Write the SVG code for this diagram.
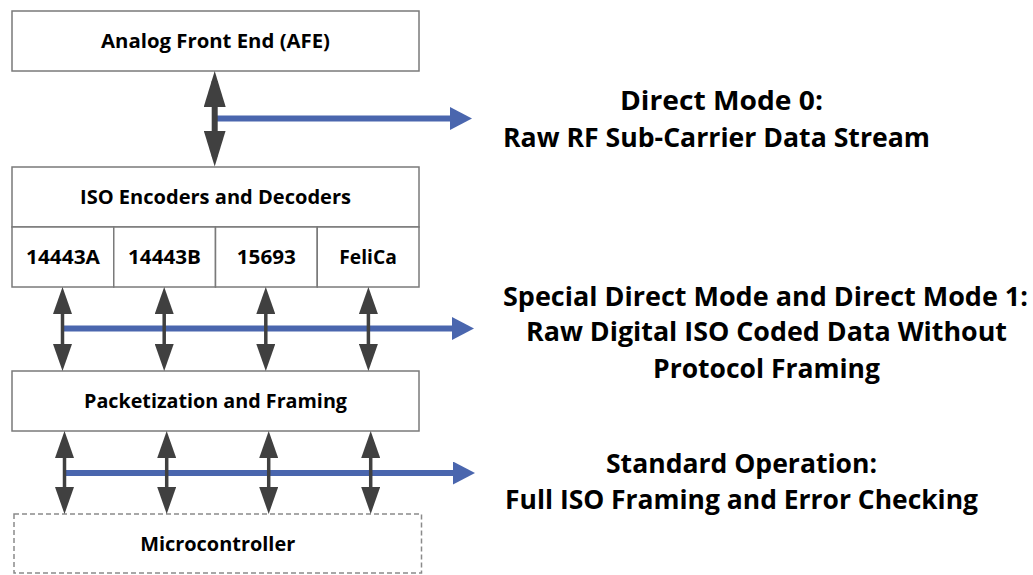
<svg xmlns="http://www.w3.org/2000/svg" width="1033" height="575" viewBox="0 0 1033 575">
  <style>
    .box { fill: #ffffff; stroke: #7a7a7a; stroke-width: 1.5; }
    .dashed { fill: #ffffff; stroke: #8a8a8a; stroke-width: 1.5; stroke-dasharray: 5 3; }
    .lbl { font-family: "Open Sans", "Liberation Sans", sans-serif; font-weight: 700; font-size: 19px; fill: #000000; text-anchor: middle; }
    .mode { font-family: "Open Sans", "Liberation Sans", sans-serif; font-weight: 700; font-size: 27px; fill: #000000; text-anchor: middle; }
    .bus { stroke: #404040; fill: none; }
    .tap { stroke: #4a66ae; stroke-width: 6; fill: none; }
  </style>
  <defs>
    <!-- large double-headed link head (AFE to encoders) -->
    <marker id="headL" markerUnits="userSpaceOnUse" viewBox="0 0 36 22" markerWidth="36" markerHeight="22" refX="26" refY="11" orient="auto-start-reverse">
      <path d="M0,0 L36,11 L0,22 Z" fill="#404040"/>
    </marker>
    <!-- small double-headed link head (per-protocol lanes) -->
    <marker id="headS" markerUnits="userSpaceOnUse" viewBox="0 0 27 19" markerWidth="27" markerHeight="19" refX="17" refY="9.5" orient="auto-start-reverse">
      <path d="M0,0 L27,9.5 L0,19 Z" fill="#404040"/>
    </marker>
    <!-- blue tap-off head -->
    <marker id="headB" markerUnits="userSpaceOnUse" viewBox="0 0 22 23" markerWidth="22" markerHeight="23" refX="12" refY="11.5" orient="auto">
      <path d="M0,0 L22,11.5 L0,23 Z" fill="#4a66ae"/>
    </marker>
  </defs>

  <!-- blocks -->
  <g id="afe">
    <rect class="box" x="12" y="11" width="407" height="60"/>
    <text class="lbl" x="215.5" y="48" textLength="229" lengthAdjust="spacingAndGlyphs">Analog Front End (AFE)</text>
  </g>

  <g id="iso-codecs">
    <rect class="box" x="12" y="167" width="407" height="60"/>
    <text class="lbl" x="215.5" y="204" textLength="271" lengthAdjust="spacingAndGlyphs">ISO Encoders and Decoders</text>
  </g>
  <g id="iso-14443a">
    <rect class="box" x="12" y="227" width="101.75" height="60"/>
    <text class="lbl" x="63" y="264" textLength="74" lengthAdjust="spacingAndGlyphs">14443A</text>
  </g>
  <g id="iso-14443b">
    <rect class="box" x="113.75" y="227" width="101.75" height="60"/>
    <text class="lbl" x="164.5" y="264" textLength="73" lengthAdjust="spacingAndGlyphs">14443B</text>
  </g>
  <g id="iso-15693">
    <rect class="box" x="215.5" y="227" width="101.75" height="60"/>
    <text class="lbl" x="266.3" y="264" textLength="59" lengthAdjust="spacingAndGlyphs">15693</text>
  </g>
  <g id="iso-felica">
    <rect class="box" x="317.25" y="227" width="101.75" height="60"/>
    <text class="lbl" x="368" y="264" textLength="57.5" lengthAdjust="spacingAndGlyphs">FeliCa</text>
  </g>

  <g id="packetization">
    <rect class="box" x="12" y="371" width="407" height="60"/>
    <text class="lbl" x="215.5" y="408" textLength="263" lengthAdjust="spacingAndGlyphs">Packetization and Framing</text>
  </g>

  <g id="microcontroller">
    <rect class="dashed" x="14" y="514" width="407.5" height="59"/>
    <text class="lbl" x="217.7" y="551" textLength="155" lengthAdjust="spacingAndGlyphs">Microcontroller</text>
  </g>

  <!-- links between blocks and the data taps -->
  <g id="connectors">
    <line class="tap" x1="217" y1="118.5" x2="462" y2="118.5" marker-end="url(#headB)"/>
    <line class="tap" x1="63" y1="328.5" x2="464" y2="328.5" marker-end="url(#headB)"/>
    <line class="tap" x1="65" y1="473" x2="465" y2="473" marker-end="url(#headB)"/>

    <line class="bus" stroke-width="6" x1="214.7" y1="81" x2="214.7" y2="156.5" marker-start="url(#headL)" marker-end="url(#headL)"/>

    <line class="bus" stroke-width="3.5" x1="62.5" y1="297" x2="62.5" y2="361" marker-start="url(#headS)" marker-end="url(#headS)"/>
    <line class="bus" stroke-width="3.5" x1="164.2" y1="297" x2="164.2" y2="361" marker-start="url(#headS)" marker-end="url(#headS)"/>
    <line class="bus" stroke-width="3.5" x1="265.8" y1="297" x2="265.8" y2="361" marker-start="url(#headS)" marker-end="url(#headS)"/>
    <line class="bus" stroke-width="3.5" x1="368.4" y1="297" x2="368.4" y2="361" marker-start="url(#headS)" marker-end="url(#headS)"/>

    <line class="bus" stroke-width="3.5" x1="64.5" y1="441" x2="64.5" y2="504" marker-start="url(#headS)" marker-end="url(#headS)"/>
    <line class="bus" stroke-width="3.5" x1="166.7" y1="441" x2="166.7" y2="504" marker-start="url(#headS)" marker-end="url(#headS)"/>
    <line class="bus" stroke-width="3.5" x1="268.7" y1="441" x2="268.7" y2="504" marker-start="url(#headS)" marker-end="url(#headS)"/>
    <line class="bus" stroke-width="3.5" x1="370.7" y1="441" x2="370.7" y2="504" marker-start="url(#headS)" marker-end="url(#headS)"/>
  </g>

  <!-- mode descriptions -->
  <g id="mode-direct0">
    <text class="mode" x="721.5" y="110" textLength="203" lengthAdjust="spacingAndGlyphs">Direct Mode 0:</text>
    <text class="mode" x="716.5" y="146.5" textLength="427" lengthAdjust="spacingAndGlyphs">Raw RF Sub-Carrier Data Stream</text>
  </g>
  <g id="mode-direct1">
    <text class="mode" x="765.5" y="305.5" textLength="525" lengthAdjust="spacingAndGlyphs">Special Direct Mode and Direct Mode 1:</text>
    <text class="mode" x="766.5" y="341" textLength="481" lengthAdjust="spacingAndGlyphs">Raw Digital ISO Coded Data Without</text>
    <text class="mode" x="766.5" y="377.5" textLength="227" lengthAdjust="spacingAndGlyphs">Protocol Framing</text>
  </g>
  <g id="mode-standard">
    <text class="mode" x="741.5" y="472.5" textLength="271" lengthAdjust="spacingAndGlyphs">Standard Operation:</text>
    <text class="mode" x="741.5" y="508.5" textLength="473" lengthAdjust="spacingAndGlyphs">Full ISO Framing and Error Checking</text>
  </g>
</svg>
